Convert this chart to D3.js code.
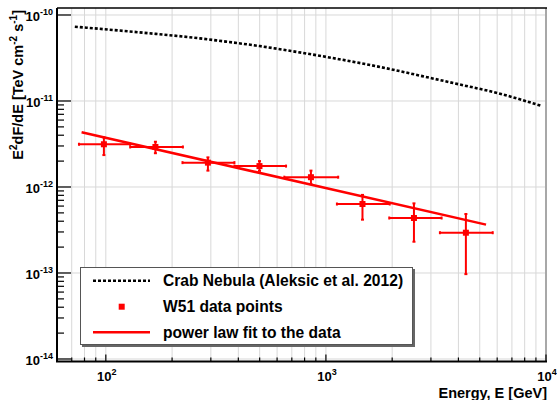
<!DOCTYPE html>
<html>
<head>
<meta charset="utf-8">
<script src="https://cdn.jsdelivr.net/npm/d3@7"></script>
<style>
  html, body { margin: 0; padding: 0; background: #fff; }
  svg { display: block; }
  text { font-family: "Liberation Sans", Arial, Helvetica, sans-serif; font-weight: bold; fill: #000; }
</style>
</head>
<body>
<svg id="chart" width="557" height="400"></svg>
<script>
// ---------------- data ----------------
// W51 data points (energy in GeV, E^2 dF/dE in TeV cm^-2 s^-1)
const w51Energy   = [98, 168, 291, 499, 855, 1466, 2512, 4325];
const w51Flux     = [3.14e-12, 2.92e-12, 1.92e-12, 1.75e-12, 1.30e-12, 6.34e-13, 4.36e-13, 2.94e-13];
const w51ELow     = [75.5, 129, 223, 384, 647, 1122, 1940, 3296];
const w51EHigh    = [129, 224, 384, 659, 1137, 1950, 3355, 5728];
const w51FluxLow  = [2.35e-12, 2.47e-12, 1.55e-12, 1.54e-12, 1.08e-12, 4.17e-13, 2.31e-13, 9.7e-14];
const w51FluxHigh = [3.78e-12, 3.36e-12, 2.21e-12, 2.00e-12, 1.55e-12, 8.09e-13, 6.45e-13, 4.85e-13];

// power law fit (straight line in log-log): end points
const fitEnergy = [77.6, 5340];
const fitFlux   = [4.33e-12, 3.65e-13];

// Crab Nebula (Aleksic et al. 2012)
const crabEnergy = [72.3, 150, 267, 324, 500, 710, 1007, 1729, 3022, 4034, 6071, 9550];
const crabFlux   = [7.31e-11, 6.2e-11, 5.35e-11, 5.03e-11, 4.35e-11, 3.78e-11, 3.25e-11, 2.51e-11, 1.84e-11, 1.56e-11, 1.23e-11, 8.75e-12];

// axes
const xDomain = [60, 10000];
const yDomain = [9.35e-15, 1.206e-10];
const xMajorTicks = [100, 1000, 10000];
const xMajorExp   = ["2", "3", "4"];
const yMajorTicks = [1e-14, 1e-13, 1e-12, 1e-11, 1e-10];
const yMajorExp   = ["-14", "-13", "-12", "-11", "-10"];
const xTitle = "Energy, E [GeV]";
const legendLabels = ["Crab Nebula (Aleksic et al. 2012)", "W51 data points", "power law fit to the data"];

// ---------------- layout ----------------
const L = 57, R = 546, T = 8, B = 361.5;
const svg = d3.select("#chart");
const x = d3.scaleLog().domain(xDomain).range([L, R]);
const y = d3.scaleLog().domain(yDomain).range([B, T]);

// minor ticks
const xMinor = [];
for (let d = 10; d <= 1000; d *= 10) for (let m = 2; m <= 9; m++) { const v = m * d; if (v >= xDomain[0] && v <= xDomain[1]) xMinor.push(v); }
const yMinor = [];
for (let d = 1e-15; d <= 1e-11; d *= 10) for (let m = 2; m <= 9; m++) { const v = m * d; if (v >= yDomain[0] && v <= yDomain[1]) yMinor.push(v); }

// grid
const grid = svg.append("g").attr("stroke", "#d8d8d8").attr("stroke-width", 1);
xMinor.concat(xMajorTicks).forEach(v => {
  grid.append("line").attr("x1", x(v)).attr("x2", x(v)).attr("y1", T).attr("y2", B);
});
yMajorTicks.forEach(v => {
  grid.append("line").attr("x1", L).attr("x2", R).attr("y1", y(v)).attr("y2", y(v));
});
// right edge (gray)
svg.append("line").attr("x1", R).attr("x2", R).attr("y1", T).attr("y2", B)
  .attr("stroke", "#a8a8a8").attr("stroke-width", 2);

// frame: top, left, bottom
svg.append("line").attr("x1", L).attr("x2", R + 1).attr("y1", T).attr("y2", T).attr("stroke", "#000").attr("stroke-width", 1.5);
svg.append("line").attr("x1", L).attr("x2", L).attr("y1", T).attr("y2", B).attr("stroke", "#000").attr("stroke-width", 2);
svg.append("line").attr("x1", L - 1).attr("x2", R + 1).attr("y1", B).attr("y2", B).attr("stroke", "#000").attr("stroke-width", 2);

// y ticks (pointing right, inside)
const ticks = svg.append("g").attr("stroke", "#000").attr("stroke-width", 1.2);
yMajorTicks.forEach(v => ticks.append("line").attr("x1", L).attr("x2", L + 14).attr("y1", y(v)).attr("y2", y(v)));
yMinor.forEach(v => ticks.append("line").attr("x1", L).attr("x2", L + 7).attr("y1", y(v)).attr("y2", y(v)));
// x ticks (pointing up)
xMajorTicks.forEach(v => ticks.append("line").attr("x1", x(v)).attr("x2", x(v)).attr("y1", B).attr("y2", B - 7));
xMinor.forEach(v => ticks.append("line").attr("x1", x(v)).attr("x2", x(v)).attr("y1", B).attr("y2", B - 4));

// tick labels
xMajorTicks.forEach((v, i) => {
  const t = svg.append("text").attr("x", x(v) + 1).attr("y", B + 19.5).attr("text-anchor", "middle").style("font-size", "13px");
  t.append("tspan").text("10");
  t.append("tspan").attr("dy", -6).style("font-size", "9px").text(xMajorExp[i]);
});
yMajorTicks.forEach((v, i) => {
  const t = svg.append("text").attr("x", L - 4).attr("y", y(v) + 6).attr("text-anchor", "end").style("font-size", "13px");
  t.append("tspan").text("10");
  t.append("tspan").attr("dy", -6).style("font-size", "9px").text(yMajorExp[i]);
});

// axis titles
svg.append("text").attr("x", 547).attr("y", 397.5).attr("text-anchor", "end").style("font-size", "14.5px").text(xTitle);
const yt = svg.append("text").attr("transform", "translate(22.5,10) rotate(-90)").attr("text-anchor", "end").style("font-size", "14.5px");
yt.append("tspan").text("E");
yt.append("tspan").attr("dy", -6).style("font-size", "10px").text("2");
yt.append("tspan").attr("dy", 6).text("dF/dE [TeV cm");
yt.append("tspan").attr("dy", -6).style("font-size", "10px").text("-2");
yt.append("tspan").attr("dy", 6).text(" s");
yt.append("tspan").attr("dy", -6).style("font-size", "10px").text("-1");
yt.append("tspan").attr("dy", 6).text("]");

// Crab curve (dotted)
const crabLine = d3.line().x(d => x(d[0])).y(d => y(d[1])).curve(d3.curveMonotoneX);
svg.append("path").datum(d3.zip(crabEnergy, crabFlux)).attr("d", crabLine)
  .attr("fill", "none").attr("stroke", "#000").attr("stroke-width", 2.6).attr("stroke-dasharray", "3,2");

// W51 error bars and markers
const red = "#ff0000";
const eb = svg.append("g").attr("stroke", red).attr("stroke-width", 2);
w51Energy.forEach((e, i) => {
  const cx = x(e), cy = y(w51Flux[i]);
  const xl = x(w51ELow[i]), xh = x(w51EHigh[i]);
  const yl = y(w51FluxLow[i]), yh = y(w51FluxHigh[i]);
  eb.append("line").attr("x1", xl).attr("x2", xh).attr("y1", cy).attr("y2", cy);
  eb.append("line").attr("x1", cx).attr("x2", cx).attr("y1", yh).attr("y2", yl);
  eb.append("line").attr("x1", xl).attr("x2", xl).attr("y1", cy - 1.5).attr("y2", cy + 1.5);
  eb.append("line").attr("x1", xh).attr("x2", xh).attr("y1", cy - 1.5).attr("y2", cy + 1.5);
  eb.append("line").attr("x1", cx - 1.5).attr("x2", cx + 1.5).attr("y1", yh).attr("y2", yh);
  eb.append("line").attr("x1", cx - 1.5).attr("x2", cx + 1.5).attr("y1", yl).attr("y2", yl);
});
svg.append("g").selectAll("rect").data(d3.zip(w51Energy, w51Flux)).join("rect")
  .attr("x", d => x(d[0]) - 3).attr("y", d => y(d[1]) - 3).attr("width", 6).attr("height", 6).attr("fill", red);

// fit line
svg.append("path").datum(d3.zip(fitEnergy, fitFlux))
  .attr("d", d3.line().x(d => x(d[0])).y(d => y(d[1])))
  .attr("fill", "none").attr("stroke", red).attr("stroke-width", 2.5);

// legend
const lg = svg.append("g");
lg.append("rect").attr("x", 82).attr("y", 269).attr("width", 333).attr("height", 78).attr("fill", "#666");
lg.append("rect").attr("x", 80.5).attr("y", 267.5).attr("width", 332).attr("height", 77).attr("fill", "#fff").attr("stroke", "#555").attr("stroke-width", 1);
const rowY = [280.7, 306.7, 332.3];
lg.append("line").attr("x1", 93).attr("x2", 150).attr("y1", rowY[0]).attr("y2", rowY[0])
  .attr("stroke", "#000").attr("stroke-width", 2.6).attr("stroke-dasharray", "3,2");
lg.append("rect").attr("x", 118.7).attr("y", rowY[1] - 3).attr("width", 6).attr("height", 6).attr("fill", red);
lg.append("line").attr("x1", 93).attr("x2", 150).attr("y1", rowY[2]).attr("y2", rowY[2])
  .attr("stroke", red).attr("stroke-width", 2.5);
legendLabels.forEach((s, i) => {
  lg.append("text").attr("x", 163).attr("y", rowY[i] + 5.4).style("font-size", "15.6px").text(s);
});
</script>
</body>
</html>
